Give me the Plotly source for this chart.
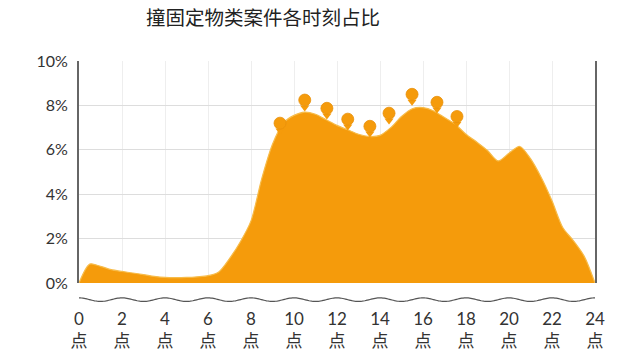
import plotly.graph_objects as go
import numpy as np

hours = [0, 0.5, 1, 1.5, 2, 2.5, 3, 3.5, 4, 4.5, 5, 5.5, 6, 6.5, 7, 7.5, 8, 8.5, 9, 9.5,
         10, 10.5, 11, 11.5, 12, 12.5, 13, 13.5, 14, 14.5, 15, 15.5, 16, 16.5, 17, 17.5,
         18, 18.5, 19, 19.5, 20, 20.5, 21, 21.5, 22, 22.5, 23, 23.5, 24]
share = [0.0, 0.85, 0.75, 0.6, 0.52, 0.45, 0.38, 0.3, 0.25, 0.24, 0.25, 0.28, 0.33, 0.5,
         1.1, 1.85, 2.8, 4.7, 6.25, 7.2, 7.55, 7.7, 7.6, 7.35, 7.1, 6.9, 6.7, 6.6, 6.65,
         7.0, 7.5, 7.85, 7.9, 7.75, 7.45, 7.15, 6.7, 6.35, 5.97, 5.5, 5.85, 6.15, 5.6,
         4.75, 3.7, 2.5, 1.9, 1.2, 0.0]

pin_hours = [9.35, 10.5, 11.53, 12.5, 13.53, 14.42, 15.49, 16.65, 17.58]
pin_values = [7.2, 8.24, 7.87, 7.38, 7.06, 7.65, 8.5, 8.14, 7.5]

tick_vals = list(range(0, 25, 2))
tick_text = [f"{h}<br>点" for h in tick_vals]
y_ticks = [0, 2, 4, 6, 8, 10]
y_text = [f"{v}%" for v in y_ticks]

ORANGE = "#F59B0B"

fig = go.Figure()
fig.add_trace(go.Scatter(
    x=hours, y=share, mode="lines", line=dict(color="#F7BC4A", width=1.2, shape="spline", smoothing=0.8),
    fill="tozeroy", fillcolor=ORANGE, hoverinfo="skip", showlegend=False))
# pin tails
fig.add_trace(go.Scatter(
    x=pin_hours, y=[v - 0.33 for v in pin_values], mode="markers",
    marker=dict(symbol="triangle-down", size=8, color=ORANGE, line=dict(width=0)),
    showlegend=False, hoverinfo="skip"))
# pin heads
fig.add_trace(go.Scatter(
    x=pin_hours, y=pin_values, mode="markers",
    marker=dict(symbol="circle", size=12, color=ORANGE, line=dict(width=0.8, color="#E8900A")),
    showlegend=False, hoverinfo="skip"))

# wavy break line below the plot
wx = np.linspace(0, 24, 400)
wy = -0.075 + 0.008 * np.sin(wx * np.pi + np.pi / 2)
path = "M " + " L ".join(f"{a:.4f},{b:.5f}" for a, b in zip(wx, wy))
fig.add_shape(type="path", path=path, xref="x", yref="paper",
              line=dict(color="#555", width=1.2))

fig.update_layout(
    width=640, height=356,
    margin=dict(l=79, r=45, t=61, b=73, autoexpand=False),
    paper_bgcolor="white", plot_bgcolor="white",
    title=dict(text="撞固定物类案件各时刻占比", x=263 / 640, xanchor="center", y=1 - 18 / 356, yanchor="middle",
               font=dict(family="Noto Sans CJK SC", size=19.5, color="#222")),
    font=dict(family="Lato, DejaVu Sans", color="#333"),
)
fig.update_xaxes(range=[0, 24], tickvals=tick_vals, ticktext=tick_text,
                 showgrid=True, gridcolor="#EEEEEE", gridwidth=1,
                 zeroline=False, showline=False, ticks="", automargin=False,
                 ticklabelstandoff=24,
                 tickfont=dict(family="Lato, Noto Sans CJK SC", size=17, color="#333"))
fig.update_yaxes(range=[0, 10], tickvals=y_ticks, ticktext=y_text,
                 showgrid=True, gridcolor="#DDDDDD", gridwidth=1,
                 zeroline=False, showline=True, linecolor="#666", linewidth=2, mirror=True,
                 ticks="", ticklabelstandoff=6, automargin=False,
                 tickfont=dict(family="Lato", size=16, color="#333"))

fig.write_html("out.html")
